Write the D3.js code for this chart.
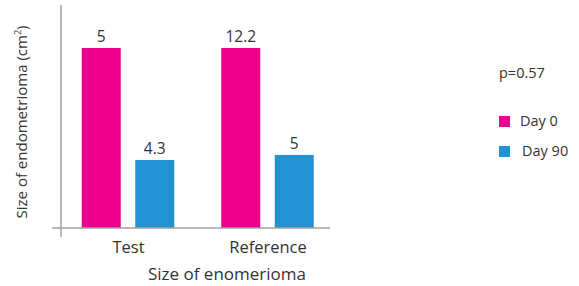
<!DOCTYPE html>
<html><head><meta charset="utf-8">
<script src="https://cdn.jsdelivr.net/npm/d3@7"></script>
<style>
body{margin:0;background:#fff;}
text{font-family:"Open Sans",sans-serif;fill:#333;}
</style></head>
<body><svg id="c" width="579" height="286"></svg>
<script>
// Data
const categories = ["Test", "Reference"];
const seriesNames = ["Day 0", "Day 90"];
// printed value labels
const day0Labels = ["5", "12.2"];
const day90Labels = ["4.3", "5"];
// drawn bar heights (as they appear in the picture, arbitrary units, no axis ticks)
const day0Heights = [5, 5];
const day90Heights = [1.89, 2.03];
const pValueText = "p=0.57";
const colors = ["#EC008C", "#2192D2"];

const svg = d3.select("#c");
const x0 = d3.scalePoint().domain(categories).range([128, 267.5]);
const x1 = d3.scaleBand().domain(seriesNames).range([-46.25, 46.25]).paddingInner(0.271);
const y = d3.scaleLinear().domain([0, 5]).range([228, 48]);

const rows = categories.map((c, i) => ({
  cat: c,
  vals: [
    {s: seriesNames[0], h: day0Heights[i], lab: day0Labels[i]},
    {s: seriesNames[1], h: day90Heights[i], lab: day90Labels[i]}
  ]
}));

const g = svg.selectAll("g.grp").data(rows).enter().append("g")
  .attr("transform", d => `translate(${x0(d.cat)},0)`);
g.selectAll("rect").data(d => d.vals).enter().append("rect")
  .attr("x", d => x1(d.s)).attr("width", x1.bandwidth())
  .attr("y", d => y(d.h)).attr("height", d => y(0) - y(d.h))
  .attr("fill", (d, i) => colors[i]);
g.selectAll("text.v").data(d => d.vals).enter().append("text")
  .attr("class", "v")
  .attr("x", d => x1(d.s) + x1.bandwidth() / 2)
  .attr("y", d => y(d.h) - 6)
  .attr("text-anchor", "middle").attr("font-size", 15.5)
  .text(d => d.lab);

// axes lines
svg.append("line").attr("x1", 61).attr("x2", 61).attr("y1", 5).attr("y2", 237)
  .attr("stroke", "#a0a0a0").attr("stroke-width", 1.5);
svg.append("line").attr("x1", 52).attr("x2", 330).attr("y1", y(0)).attr("y2", y(0))
  .attr("stroke", "#a0a0a0").attr("stroke-width", 1.5);

// x tick labels
const xa = svg.append("g").attr("transform", `translate(0,${y(0)})`)
  .call(d3.axisBottom(x0).tickSize(0).tickPadding(13));
xa.select(".domain").remove();
xa.selectAll("text").attr("font-size", 16.5).attr("font-family", "Open Sans").attr("fill", "#333").attr("dy", "0.71em");

// titles
svg.append("text").attr("x", 227).attr("y", 280).attr("text-anchor", "middle")
  .attr("font-size", 17).text("Size of enomerioma");
const yt = svg.append("text").attr("transform", "translate(27,122) rotate(-90)")
  .attr("text-anchor", "middle").attr("font-size", 15);
yt.append("tspan").text("Size of endometrioma (cm");
yt.append("tspan").attr("font-size", 9).attr("dy", -6).text("2");
yt.append("tspan").attr("dy", 6).text(")");

// legend
svg.append("text").attr("x", 499).attr("y", 78).attr("font-size", 14.5).text(pValueText);
const lg = svg.selectAll("g.lg").data(seriesNames).enter().append("g")
  .attr("transform", (d, i) => `translate(499,${116 + i * 30})`);
lg.append("rect").attr("width", 11).attr("height", 11).attr("fill", (d, i) => colors[i]);
lg.append("text").attr("x", (d, i) => 21 + i * 2).attr("y", 10).attr("font-size", 14.5).text(d => d);
</script></body></html>
